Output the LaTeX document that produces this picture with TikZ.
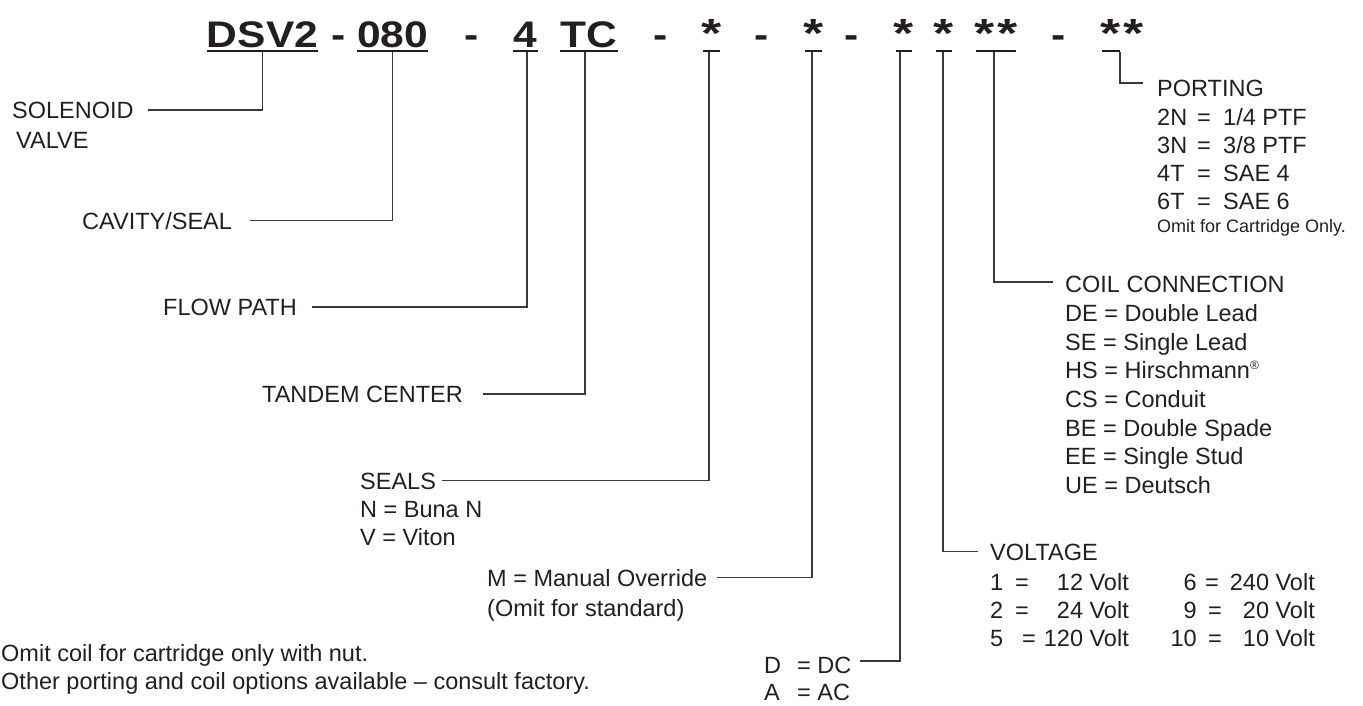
\documentclass[tikz,border=0pt]{standalone}
\usepackage{graphicx}
\usepackage{fontspec}
\setmainfont{Liberation Sans}
\definecolor{txt}{HTML}{231F20}
\definecolor{ln}{HTML}{3A3A3A}
\newcommand\hsc[1]{\scalebox{1.15}[1]{#1}}
\newcommand\hast{\makebox[16.5pt]{\scalebox{1.4}[1.1]{*}}}
\begin{document}
\begin{tikzpicture}[x=1pt,y=-1pt,
  lab/.style={anchor=base west,inner sep=0pt,font=\fontsize{23.5}{28}\selectfont,text=txt},
  labr/.style={anchor=base east,inner sep=0pt,font=\fontsize{23.5}{28}\selectfont,text=txt},
  small/.style={anchor=base west,inner sep=0pt,font=\fontsize{18}{20}\selectfont,text=txt},
  hdr/.style={anchor=base,inner sep=0pt,font=\fontsize{37}{37}\selectfont\bfseries,text=txt},
  ul/.style={line width=2pt,draw=txt},
  conn/.style={line width=1.4pt,draw=ln}]
\useasboundingbox (0,0) rectangle (1363,705);
% header
\node[hdr] (dsv) at (262.5,47) {\hsc{DSV2}};
\node[hdr] (d1) at (339,47) {\hsc{-}};
\node[hdr] (n080) at (392.5,47) {\hsc{080}};
\node[hdr] (d2) at (471.5,47) {\hsc{-}};
\node[hdr] (n4) at (525.5,47) {\hsc{4}};
\node[hdr] (tc) at (589,47) {\hsc{TC}};
\node[hdr] (d3) at (660.5,47) {\hsc{-}};
\node[hdr] (s1) at (711.5,47) {\hast};
\node[hdr] (d4) at (762,47) {\hsc{-}};
\node[hdr] (s2) at (813.5,47) {\hast};
\node[hdr] (d5) at (852,47) {\hsc{-}};
\node[hdr] (s3) at (904,47) {\hast};
\node[hdr] (s4) at (944,47) {\hast};
\node[hdr] (s5) at (996,47) {\hast\kern7pt\hast};
\node[hdr] (d6) at (1059,47) {\hsc{-}};
\node[hdr] (s6) at (1122,47) {\hast\kern7pt\hast};
\foreach \n in {dsv,n080,n4,tc,s1,s2,s3,s4,s5}
  \draw[ul] ([yshift=-3.5pt]\n.base west) -- ([yshift=-3.5pt]\n.base east);
\draw[ul] ([yshift=-3.5pt]s6.base west) -- ([xshift=18pt,yshift=-3.5pt]s6.base west);
% left labels
\node[lab] (sol) at (12,118.4) {SOLENOID};
\node[lab] (valve) at (16,148.4) {VALVE};
\node[lab] (cav) at (82,229) {CAVITY/SEAL};
\node[lab] (flow) at (163,315.4) {FLOW PATH};
\node[lab] (tand) at (262,402.4) {TANDEM CENTER};
\node[lab] (seals) at (360,489) {SEALS};
\node[lab] (buna) at (360,517) {N = Buna N};
\node[lab] (viton) at (360,545) {V = Viton};
\node[lab] (man) at (487,586) {M = Manual Override};
\node[lab] (std) at (487,616) {(Omit for standard)};
\node[lab] (dk) at (764,673) {D};
\node[lab] (dc) at (797,673) {= DC};
\node[lab] (ak) at (764,700) {A};
\node[lab] (ac) at (797,700) {= AC};
\node[lab] (note1) at (1,661) {Omit coil for cartridge only with nut.};
\node[lab] (note2) at (1,689) {Other porting and coil options available -- consult factory.};
% voltage
\node[lab] (volt) at (990,560) {VOLTAGE};
\node[lab] (v1k) at (990,590) {1};
\node[lab] (v1e) at (1015,590) {=};
\node[labr] (v1v) at (1129,590) {12 Volt};
\node[lab] (v2k) at (990,618) {2};
\node[lab] (v2e) at (1015,618) {=};
\node[labr] (v2v) at (1129,618) {24 Volt};
\node[lab] (v3k) at (990,646) {5};
\node[lab] (v3e) at (1022,646) {=};
\node[labr] (v3v) at (1129,646) {120 Volt};
\node[labr] (v4k) at (1197,590) {6};
\node[lab] (v4e) at (1205,590) {=};
\node[labr] (v4v) at (1315,590) {240 Volt};
\node[labr] (v5k) at (1197,618) {9};
\node[lab] (v5e) at (1208,618) {=};
\node[labr] (v5v) at (1315,618) {20 Volt};
\node[labr] (v6k) at (1197,646) {10};
\node[lab] (v6e) at (1208,646) {=};
\node[labr] (v6v) at (1315,646) {10 Volt};
% coil connection
\node[lab] (coil) at (1065,292.5) {COIL CONNECTION};
\node[lab] (c1) at (1065,321.4) {DE = Double Lead};
\node[lab] (c2) at (1065,350) {SE = Single Lead};
\node[lab] (c3) at (1065,378.4) {HS = Hirschmann\textsuperscript{\fontsize{12}{12}\selectfont\textregistered}};
\node[lab] (c4) at (1065,407) {CS = Conduit};
\node[lab] (c5) at (1065,436) {BE = Double Spade};
\node[lab] (c6) at (1065,464) {EE = Single Stud};
\node[lab] (c7) at (1065,493) {UE = Deutsch};
% porting
\node[lab] (port) at (1157,96) {PORTING};
\node[lab] (p1k) at (1157,125) {2N};
\node[lab] (p1e) at (1197,125) {=};
\node[lab] (p1v) at (1223,125) {1/4 PTF};
\node[lab] (p2k) at (1157,153) {3N};
\node[lab] (p2e) at (1197,153) {=};
\node[lab] (p2v) at (1223,153) {3/8 PTF};
\node[lab] (p3k) at (1157,181) {4T};
\node[lab] (p3e) at (1197,181) {=};
\node[lab] (p3v) at (1223,181) {SAE 4};
\node[lab] (p4k) at (1157,209) {6T};
\node[lab] (p4e) at (1197,209) {=};
\node[lab] (p4v) at (1223,209) {SAE 6};
\node[small] (pomit) at (1157,232.5) {Omit for Cartridge Only.};
% connectors
\draw[conn] ([xshift=14pt,yshift=8.4pt]sol.base east) -| ([yshift=-4.5pt]dsv.base);
\draw[conn] ([xshift=18pt,yshift=8.4pt]cav.base east) -| ([yshift=-4.5pt]n080.base);
\draw[conn] ([xshift=15pt,yshift=8.4pt]flow.base east) -| ([xshift=1.5pt,yshift=-4.5pt]n4.base);
\draw[conn] ([xshift=20pt,yshift=8.4pt]tand.base east) -| ([xshift=-4pt,yshift=-4.5pt]tc.base);
\draw[conn] ([xshift=6pt,yshift=8.4pt]seals.base east) -| ([xshift=-2.5pt,yshift=-4.5pt]s1.base);
\draw[conn] ([xshift=10pt,yshift=8.4pt]man.base east) -| ([xshift=-1.5pt,yshift=-4.5pt]s2.base);
\draw[conn] ([xshift=8pt,yshift=12pt]dc.base east) -| ([xshift=-4pt,yshift=-4.5pt]s3.base);
\draw[conn] ([xshift=-12pt,yshift=8.4pt]volt.base west) -| ([xshift=-1pt,yshift=-4.5pt]s4.base);
\draw[conn] ([xshift=-12pt,yshift=10.5pt]coil.base west) -| ([xshift=-2pt,yshift=-4.5pt]s5.base);
\draw[conn] ([xshift=-14pt,yshift=13pt]port.base west) -| ([xshift=18pt,yshift=-4.5pt]s6.base west);
\end{tikzpicture}
\end{document}
